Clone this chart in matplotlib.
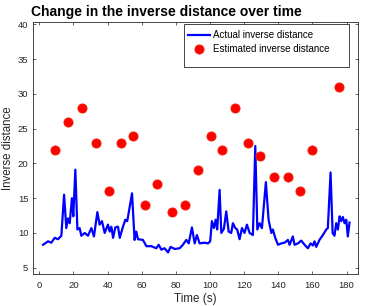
import numpy as np
import matplotlib
matplotlib.use('Agg')
import matplotlib.pyplot as plt
from matplotlib.patches import Rectangle

plt.rcParams['font.family'] = ['Liberation Sans', 'DejaVu Sans']

# actual inverse distance
time_actual = [2.2, 5.1, 7.0, 9.0, 10.9, 12.9, 14.5, 15.8, 16.8, 17.8, 19.1, 19.9,
               21.1, 22.3, 23.6, 24.6, 26.6, 28.5, 30.5, 32.0, 34.0, 35.3, 36.7,
               38.3, 40.2, 41.2, 42.2, 43.2, 44.5, 46.1, 47.1, 49.0, 50.4, 51.5,
               54.3, 55.8, 56.8, 57.8, 60.7, 62.7, 65.6, 68.5, 69.9, 71.5, 73.4,
               75.4, 76.9, 79.3, 82.2, 84.1, 86.1, 87.5, 89.4, 91.0, 92.3, 93.9,
               96.8, 98.8, 100.1, 101.1, 102.3, 103.3, 104.2, 105.6, 106.6, 108.1,
               109.5, 110.9, 112.4, 113.4, 114.8, 115.9, 117.3, 118.7, 120.2,
               121.6, 123.2, 125.1, 126.5, 127.7, 129.0, 130.4, 132.7, 134.3,
               135.9, 136.8, 138.2, 139.8, 141.7, 143.7, 145.6, 146.6, 148.5,
               149.5, 151.5, 153.4, 155.4, 157.3, 158.9, 160.3, 161.2, 162.2,
               164.1, 166.1, 168.1, 169.0, 170.6, 171.8, 172.9, 173.9, 174.9,
               175.9, 176.8, 177.8, 178.8, 179.8, 180.7, 181.7]
inv_actual = [8.3, 8.8, 8.6, 9.3, 9.1, 9.6, 15.5, 10.7, 12.1, 11.4, 15.0, 12.4,
              19.1, 10.5, 10.7, 9.6, 10.0, 9.6, 10.7, 9.5, 13.0, 11.2, 11.7,
              10.0, 11.2, 10.2, 10.9, 9.3, 10.8, 10.9, 9.3, 10.9, 11.9, 11.7,
              15.7, 9.0, 10.2, 9.1, 9.0, 8.1, 8.1, 7.8, 8.3, 7.6, 7.8,
              7.2, 8.0, 7.7, 7.8, 8.3, 9.0, 8.5, 10.8, 8.5, 9.7, 8.5,
              8.6, 8.5, 8.8, 11.7, 10.7, 11.9, 10.5, 16.2, 10.0, 10.6,
              13.1, 10.2, 10.0, 11.4, 10.7, 10.5, 9.1, 10.7, 10.0,
              11.2, 10.0, 9.7, 22.5, 10.5, 11.4, 10.7, 17.3, 11.9,
              10.0, 10.5, 9.3, 8.3, 8.5, 8.6, 9.0, 8.3, 9.5,
              8.3, 8.5, 8.9, 8.3, 7.8, 8.5, 8.2, 8.8, 8.0,
              9.0, 9.7, 10.5, 10.7, 18.7, 10.0, 9.6, 11.4, 10.5,
              12.4, 11.7, 12.3, 11.4, 11.9, 9.5, 11.5]

# estimated inverse distance
time_est = [9.4, 16.8, 25.2, 33.2, 41.0, 48.0, 55.0, 62.1, 68.9, 77.5, 85.3,
            92.9, 100.3, 107.1, 114.4, 122.2, 129.2, 137.6, 145.4, 152.5,
            159.7, 175.3]
inv_est = [22, 26, 28, 23, 16, 23, 24, 14, 17, 13, 14,
           19, 24, 22, 28, 23, 21, 18, 18, 16, 22, 31]

fig = plt.figure(figsize=(3.66, 3.06), dpi=100)
ax = fig.add_axes([0.0888, 0.1046, 0.889, 0.825])

ax.plot(time_actual, inv_actual, color='#0000ff', linewidth=1.6,
        label='Actual inverse distance')
ax.plot(time_est, inv_est, linestyle='none', marker='o', markersize=6.6,
        markerfacecolor='#ff0000', markeredgecolor='#f02000', markeredgewidth=0.6,
        label='Estimated inverse distance')

ax.set_xlim(-4, 186.6)
ax.set_ylim(4.1, 40.4)
ax.set_xticks(np.arange(0, 181, 20))
ax.set_yticks(np.arange(5, 41, 5))

gray = '#262626'
ax.tick_params(direction='in', length=2.5, width=0.5, labelsize=6.8,
               colors=gray, top=True, right=True, pad=3)
ax.tick_params(axis='x', pad=5)
for s in ax.spines.values():
    s.set_color(gray)
    s.set_linewidth(0.6)

ax.set_xlabel('Time (s)', fontsize=8.4, color=gray, labelpad=2)
ax.set_ylabel('Inverse distance', fontsize=8.3, color=gray, labelpad=3)
ax.set_title('Change in the inverse distance over time', fontsize=10,
             fontweight='bold', loc='left', x=-0.005, pad=4)

# legend box drawn separately (matlab-style oversized frame)
box = Rectangle((184 / 366, 1 - 67 / 306), 165 / 366, 43 / 306,
                transform=fig.transFigure, facecolor='white', edgecolor=gray,
                linewidth=0.6, zorder=4.5)
ax.add_patch(box)

leg = ax.legend(loc='upper left', bbox_to_anchor=(188 / 366, 1 - 30 / 306),
                bbox_transform=fig.transFigure, borderaxespad=0, frameon=False,
                fontsize=7, handlelength=2.3, handletextpad=0.3, borderpad=0,
                labelspacing=0.45)
leg.set_zorder(5)

fig.savefig('out.png', dpi=100)
